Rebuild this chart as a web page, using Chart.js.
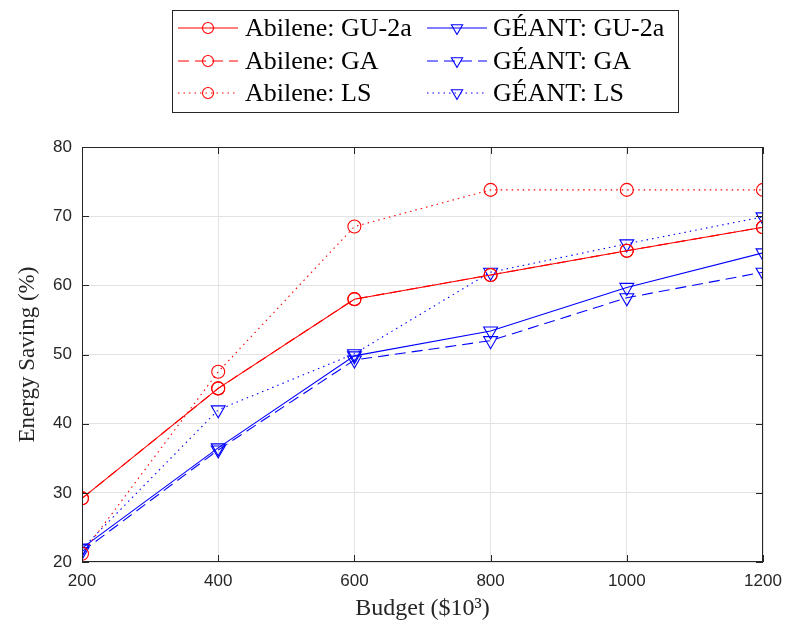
<!DOCTYPE html>
<html>
<head>
<meta charset="utf-8">
<script src="https://cdn.jsdelivr.net/npm/chart.js@4.4.1/dist/chart.umd.min.js"></script>
<style>
  html, body { margin: 0; padding: 0; background: #fff; }
  #wrap { width: 786px; height: 627px; }
</style>
</head>
<body>
<div id="wrap"><canvas id="chart" width="786" height="627"></canvas></div>
<script>
// budgets (x axis, in $10^3)
const budgets = [200, 400, 600, 800, 1000, 1200];
const xTicks = [200, 400, 600, 800, 1000, 1200];
const yTicks = [20, 30, 40, 50, 60, 70, 80];

// energy saving (%)
const abileneGU = [29.2, 45.1, 58.0, 61.5, 65.0, 68.4];
const abileneGA = [29.2, 45.1, 58.0, 61.5, 65.0, 68.4];
const abileneLS = [21.2, 47.5, 68.5, 73.8, 73.8, 73.8];
const geantGU = [22.0, 36.5, 49.8, 53.4, 59.7, 64.7];
const geantGA = [21.5, 36.2, 49.2, 52.0, 58.2, 61.9];
const geantLS = [21.9, 42.0, 50.1, 61.9, 66.0, 69.9];

const RED = '#ff0000';
const BLUE = '#0000ff';
const DASH = [11, 6];
const DOT = [1.5, 4];

function toPoints(vals) {
    return budgets.map((b, i) => ({ x: b, y: vals[i] }));
}

function makeSet(label, vals, color, dash, marker) {
    return {
        label: label,
        data: toPoints(vals),
        borderColor: color,
        backgroundColor: 'rgba(0,0,0,0)',
        borderWidth: 1.1,
        borderDash: dash,
        pointStyle: marker === 'circle' ? 'circle' : 'triangle',
        pointRotation: marker === 'circle' ? 0 : 180,
        pointRadius: marker === 'circle' ? 6.5 : 8,
        pointBorderColor: color,
        pointBackgroundColor: 'rgba(0,0,0,0)',
        pointBorderWidth: 1.1,
        tension: 0,
        fill: false
    };
}

const sets = [
    makeSet('Abilene: GU-2a', abileneGU, RED, [], 'circle'),
    makeSet('Abilene: GA', abileneGA, RED, DASH, 'circle'),
    makeSet('Abilene: LS', abileneLS, RED, DOT, 'circle'),
    makeSet('GÉANT: GU-2a', geantGU, BLUE, [], 'tri'),
    makeSet('GÉANT: GA', geantGA, BLUE, DASH, 'tri'),
    makeSet('GÉANT: LS', geantLS, BLUE, DOT, 'tri')
];

// matlab-like box with inward ticks
const boxPlugin = {
    id: 'box',
    afterDatasetsDraw(chart) {
        const { ctx, chartArea: a, scales } = chart;
        ctx.save();
        ctx.strokeStyle = '#262626';
        ctx.lineWidth = 1;
        ctx.strokeRect(a.left + 0.5, a.top + 0.5, a.right - a.left - 1, a.bottom - a.top - 1);
        ctx.beginPath();
        xTicks.forEach(v => {
            const px = Math.round(scales.x.getPixelForValue(v)) + 0.5;
            ctx.moveTo(px, a.bottom); ctx.lineTo(px, a.bottom - 7);
            ctx.moveTo(px, a.top); ctx.lineTo(px, a.top + 7);
        });
        yTicks.forEach(v => {
            const py = Math.round(scales.y.getPixelForValue(v)) + 0.5;
            ctx.moveTo(a.left, py); ctx.lineTo(a.left + 7, py);
            ctx.moveTo(a.right, py); ctx.lineTo(a.right - 7, py);
        });
        ctx.stroke();
        ctx.restore();
    }
};

// legend box drawn above the axes, two columns
const legendPlugin = {
    id: 'mlegend',
    afterDraw(chart) {
        const ctx = chart.ctx;
        ctx.save();
        ctx.fillStyle = '#fff';
        ctx.fillRect(172, 10, 506, 102);
        ctx.strokeStyle = '#262626';
        ctx.lineWidth = 1;
        ctx.strokeRect(172.5, 10.5, 506, 102);
        const rowsY = [28, 61, 93];
        const cols = [{ x0: 178, x1: 238, tx: 245 }, { x0: 427, x1: 487, tx: 493 }];
        chart.data.datasets.forEach((ds, i) => {
            const c = cols[Math.floor(i / 3)];
            const y = rowsY[i % 3];
            const mx = (c.x0 + c.x1) / 2;
            ctx.strokeStyle = ds.borderColor;
            ctx.lineWidth = 1.1;
            ctx.setLineDash(ds.borderDash);
            ctx.beginPath();
            ctx.moveTo(c.x0, y); ctx.lineTo(c.x1, y);
            ctx.stroke();
            ctx.setLineDash([]);
            ctx.fillStyle = 'rgba(0,0,0,0)';
            Chart.helpers.drawPoint(ctx, {
                pointStyle: ds.pointStyle,
                rotation: ds.pointRotation,
                radius: ds.pointStyle === 'circle' ? 5.5 : 6.5,
                borderWidth: 1.1
            }, mx, y);
            ctx.fillStyle = '#000';
            ctx.font = '26px "Liberation Serif", serif';
            ctx.textBaseline = 'middle';
            ctx.fillText(ds.label, c.tx, y + 1);
        });
        ctx.restore();
    }
};

new Chart(document.getElementById('chart').getContext('2d'), {
    type: 'line',
    data: { datasets: sets },
    options: {
        responsive: false,
        animation: false,
        layout: { padding: { top: 147, right: 23, left: 0, bottom: 0 } },
        plugins: {
            legend: { display: false },
            tooltip: { enabled: false }
        },
        scales: {
            x: {
                type: 'linear',
                min: 200,
                max: 1200,
                afterBuildTicks: s => { s.ticks = xTicks.map(v => ({ value: v })); },
                afterFit: s => { s.height = 65; s.paddingLeft = 0; s.paddingRight = 0; },
                grid: { color: '#e3e3e3', drawTicks: false, drawOnChartArea: true },
                border: { display: false },
                ticks: {
                    color: '#262626',
                    font: { family: '"Liberation Sans", Arial, sans-serif', size: 17 },
                    padding: 9,
                    maxRotation: 0,
                    callback: v => String(v)
                },
                title: {
                    display: true,
                    text: 'Budget ($10³)',
                    color: '#262626',
                    font: { family: '"Liberation Serif", serif', size: 24 },
                    padding: { top: 0, bottom: 4 }
                }
            },
            y: {
                min: 20,
                max: 80,
                afterBuildTicks: s => { s.ticks = yTicks.map(v => ({ value: v })); },
                afterFit: s => { s.width = 82; s.paddingTop = 0; s.paddingBottom = 0; },
                grid: { color: '#e3e3e3', drawTicks: false },
                border: { display: false },
                ticks: {
                    color: '#262626',
                    font: { family: '"Liberation Sans", Arial, sans-serif', size: 17 },
                    padding: 10,
                    callback: v => String(v)
                },
                title: {
                    display: true,
                    text: 'Energy Saving (%)',
                    color: '#262626',
                    font: { family: '"Liberation Serif", serif', size: 23 },
                    padding: { top: 14, bottom: 0 }
                }
            }
        }
    },
    plugins: [boxPlugin, legendPlugin]
});
</script>
</body>
</html>
